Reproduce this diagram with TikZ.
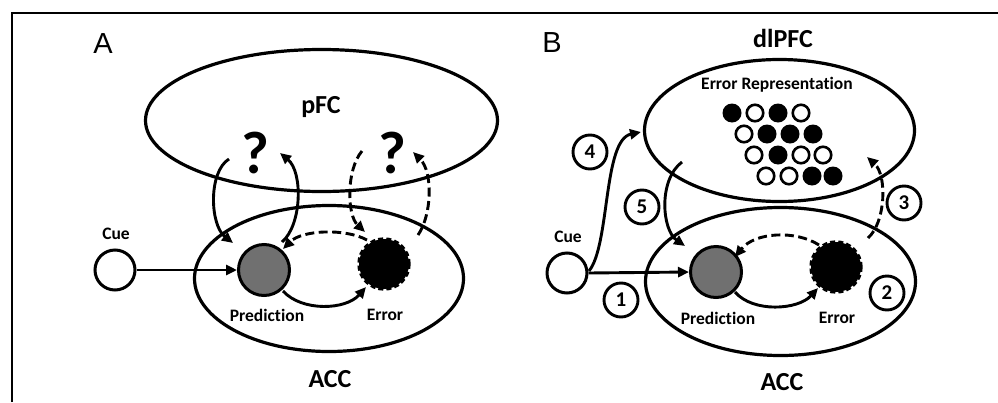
\documentclass[tikz,border=0pt]{standalone}
\usepackage{fontspec}
\setmainfont{Carlito}[RawFeature=-liga]
\newfontfamily\arialf{Liberation Sans}
\usetikzlibrary{shapes.geometric,arrows.meta}
\definecolor{predgray}{HTML}{707070}
\begin{document}
\begin{tikzpicture}[x=1pt,y=-1pt,
 region/.style={draw, ellipse, line width=3.2pt, inner sep=0},
 lbl/.style={font=\bfseries\fontsize{17.5}{20}\selectfont, anchor=base, inner sep=0},
 big/.style={font=\bfseries\fontsize{26}{30}\selectfont, anchor=base, inner sep=0},
 qm/.style={font=\bfseries\fontsize{60}{64}\selectfont, anchor=base, inner sep=0},
 panel/.style={font=\arialf\fontsize{29}{32}\selectfont, anchor=base, inner sep=0},
 cuenode/.style={draw, circle, line width=3pt, minimum size=40pt, inner sep=0, fill=white},
 prednode/.style={draw, circle, line width=3pt, fill=predgray, minimum size=51pt, inner sep=0},
 errnode/.style={draw, circle, dash pattern=on 5pt off 3pt, line width=3.4pt, fill=black, minimum size=50pt, inner sep=0},
 arr/.style={line width=2.9pt, -{Triangle[length=11pt,width=10pt]}},
 darr/.style={arr, dash pattern=on 9pt off 4.5pt},
 numc/.style={draw, circle, line width=2.9pt, minimum size=34pt, inner sep=0, font=\bfseries\fontsize{21}{22}\selectfont},
 dotb/.style={circle, fill=black, minimum size=19pt, inner sep=0},
 dotw/.style={circle, draw, line width=2.6pt, minimum size=16.5pt, inner sep=0},
]
\useasboundingbox (0,0) rectangle (998,402);
\draw[line width=2.4pt] (12,402) -- (12,13) -- (998,13);

% ---------------- Panel A ----------------
\node[panel] (labA) at (103,53) {A};
\node[region, minimum width=352pt, minimum height=142pt] (pfc) at (321.5,120.5) {};
\node[region, minimum width=269pt, minimum height=146pt] (accA) at (329,278.5) {};
\node[big] (pfcl) at (321,113) {pFC};
\node[big] (accAl) at (330,387) {ACC};
\node[qm] (qA1) at (255,173) {?};
\node[qm] (qA2) at (392,173) {?};

\coordinate (a1s) at (229,159);
\coordinate (a1e) at (233,243);
\coordinate (a2s) at (282,242);
\coordinate (a2e) at (280,153);
\coordinate (a3s) at (362,151);
\coordinate (a3e) at (365,232);
\coordinate (a4s) at (418,235);
\coordinate (a4e) at (413,152);
\coordinate (a6s) at (283,291);
\coordinate (a6e) at (366,287);
\coordinate (a7s) at (367,240);
\coordinate (a7e) at (283,249);

\draw[arr] (a1s) .. controls (208,172) and (210,225) .. (a1e);
\draw[arr] (a2s) .. controls (302,225) and (303,172) .. (a2e);
\draw[darr] (a3s) .. controls (346,170) and (347,215) .. (a3e);
\draw[darr] (a4s) .. controls (432,215) and (433,172) .. (a4e);

\node[cuenode] (cueA) at (115,270) {};
\node[prednode] (predA) at (264,270) {};
\node[errnode] (errA) at (384,264) {};
\draw[arr] (cueA.east) -- (predA.west);
\draw[arr] (a6s) .. controls (302,312) and (346,310) .. (a6e);
\draw[darr] (a7s) .. controls (345,228) and (302,230) .. (a7e);

\node[lbl] (cueAl) at (116,239) {Cue};
\node[lbl] (predAl) at (267,321) {Prediction};
\node[lbl] (errAl) at (385,320) {Error};

% ---------------- Panel B ----------------
\node[panel] (labB) at (552,52) {B};
\node[region, minimum width=270pt, minimum height=142pt] (dlpfc) at (779.5,130.5) {};
\node[region, minimum width=270pt, minimum height=148pt] (accB) at (780.5,281.5) {};
\node[big] (dlpfcl) at (783,47) {dlPFC};
\node[big] (accBl) at (782,390) {ACC};
\node[lbl] (errrep) at (777,89) {Error Representation};

% dots
\node[dotb] (d11) at (732,113) {};
\node[dotw] (d12) at (755,113) {};
\node[dotb] (d13) at (778,113) {};
\node[dotw] (d14) at (801,113) {};
\node[dotw] (d21) at (744,134) {};
\node[dotb] (d22) at (767,134) {};
\node[dotb] (d23) at (790,134) {};
\node[dotb] (d24) at (813,134) {};
\node[dotw] (d31) at (754,155) {};
\node[dotb] (d32) at (778,155) {};
\node[dotw] (d33) at (801,155) {};
\node[dotw] (d34) at (823,155) {};
\node[dotw] (d41) at (766,176) {};
\node[dotw] (d42) at (789,176) {};
\node[dotb] (d43) at (812,176) {};
\node[dotb] (d44) at (833,176) {};

\node[cuenode] (cueB) at (567,273) {};
\node[prednode] (predB) at (716,272) {};
\node[errnode] (errB) at (836,267) {};

\coordinate (b4s) at (589,271);
\coordinate (b4e) at (641,132);
\coordinate (b5s) at (682,162);
\coordinate (b5e) at (685,246);
\coordinate (b3s) at (868,238);
\coordinate (b3e) at (867,157);
\coordinate (b6s) at (735,292);
\coordinate (b6e) at (818,288);
\coordinate (b7s) at (819,245);
\coordinate (b7e) at (735,257);

\draw[arr] (b4s) .. controls (610,245) and (603,140) .. (b4e);
\draw[arr] (b5s) .. controls (658,180) and (662,230) .. (b5e);
\draw[darr] (b3s) .. controls (886,222) and (887,175) .. (b3e);
\draw[arr] (cueB.east) -- (predB.west);
\draw[arr] (b6s) .. controls (753,313) and (798,310) .. (b6e);
\draw[darr] (b7s) .. controls (796,230) and (755,232) .. (b7e);

\node[lbl] (cueBl) at (568,242) {Cue};
\node[lbl] (predBl) at (718,324) {Prediction};
\node[lbl] (errBl) at (837,323) {Error};

\node[numc] (n1) at (621,300) {1};
\node[numc] (n2) at (887,293) {2};
\node[numc] (n3) at (904,203) {3};
\node[numc] (n4) at (590,152) {4};
\node[numc] (n5) at (642,207) {5};
\end{tikzpicture}
\end{document}
